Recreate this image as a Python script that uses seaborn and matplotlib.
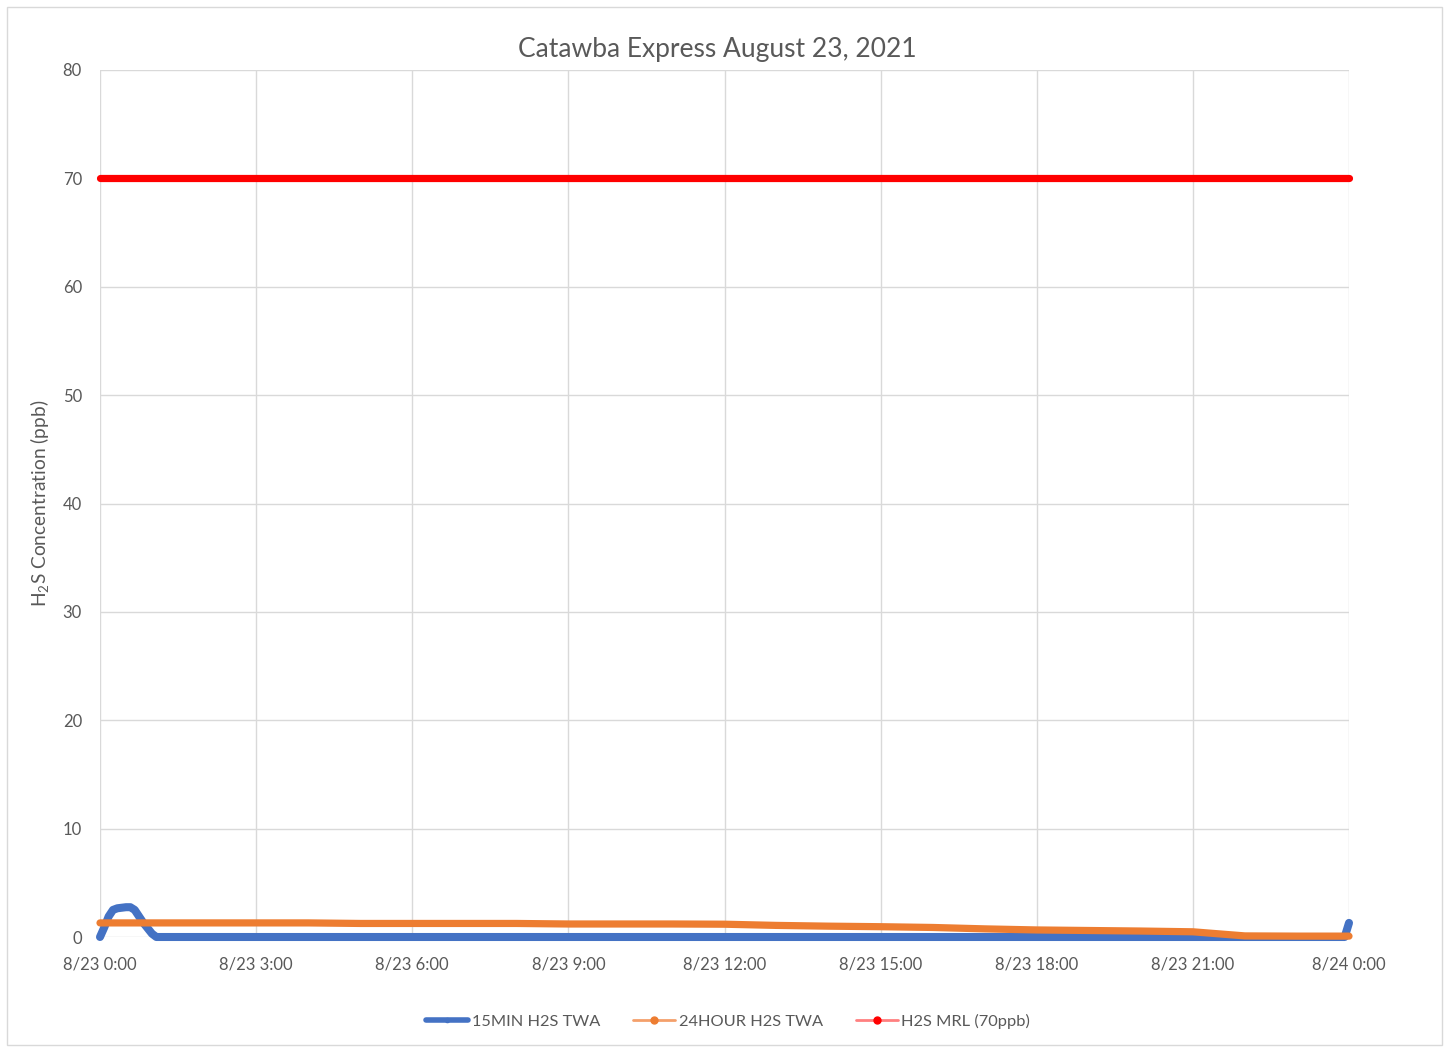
import matplotlib
matplotlib.use("Agg")
import matplotlib.pyplot as plt
import seaborn as sns
import pandas as pd
from matplotlib.lines import Line2D
from matplotlib.patches import Rectangle

# ---- data (hours after 8/23 0:00, concentration in ppb) ----
blue_hours = [0, 5/60, 10/60, 15/60, 20/60, 25/60, 30/60, 35/60, 40/60, 45/60, 50/60, 55/60, 60/60, 65/60,
              2, 3, 4, 5, 6, 7, 8, 9, 10, 11, 12, 13, 14, 15, 16, 17, 18, 19, 20, 21, 22, 23, 23 + 55/60, 24]
blue_values = [0.0, 0.9, 1.9, 2.5, 2.65, 2.7, 2.75, 2.75, 2.5, 1.9, 1.3, 0.8, 0.3, 0.0,
               0, 0, 0, 0, 0, 0, 0, 0, 0, 0, 0, 0, 0, 0, 0, 0, 0, 0, 0, 0, 0, 0, 0.0, 1.3]

orange_hours = [0, 1, 2, 3, 4, 5, 6, 7, 8, 9, 10, 11, 12, 13, 14, 15, 16, 17, 18, 19, 20, 21, 22, 23, 24]
orange_values = [1.3, 1.3, 1.3, 1.3, 1.3, 1.25, 1.25, 1.25, 1.25, 1.2, 1.2, 1.2, 1.18, 1.07, 1.0, 0.95,
                 0.88, 0.75, 0.65, 0.6, 0.55, 0.48, 0.1, 0.08, 0.08]

red_hours = [0, 3, 6, 9, 12, 15, 18, 21, 24]
red_values = [70, 70, 70, 70, 70, 70, 70, 70, 70]

x_tick_labels = ["8/23 0:00", "8/23 3:00", "8/23 6:00", "8/23 9:00", "8/23 12:00",
                 "8/23 15:00", "8/23 18:00", "8/23 21:00", "8/24 0:00"]
y_ticks = [0, 10, 20, 30, 40, 50, 60, 70, 80]

series_names = ["15MIN H2S TWA", "24HOUR H2S TWA", "H2S MRL (70ppb)"]
title = "Catawba Express August 23, 2021"

# ---- style ----
sns.set_style("white")
plt.rcParams['font.family'] = ['Lato', 'DejaVu Sans']
plt.rcParams['mathtext.fontset'] = 'custom'
plt.rcParams['mathtext.rm'] = 'Lato'

BLUE = "#4472C4"
ORANGE = "#ED7D31"
RED = "#FF0000"
TXT = "#595959"
GRID = "#D9D9D9"

fig = plt.figure(figsize=(14.49, 10.48), dpi=100)
ax = fig.add_axes([100/1449, 1 - 937/1048, 1249/1449, 867/1048])

df_b = pd.DataFrame({"h": blue_hours, "v": blue_values})
df_o = pd.DataFrame({"h": orange_hours, "v": orange_values})
df_r = pd.DataFrame({"h": red_hours, "v": red_values})

sns.lineplot(data=df_b, x="h", y="v", ax=ax, color=BLUE, linewidth=5.8,
             solid_capstyle="round", solid_joinstyle="round", zorder=3, clip_on=False)
sns.lineplot(data=df_o, x="h", y="v", ax=ax, color=ORANGE, linewidth=5.2,
             solid_capstyle="round", solid_joinstyle="round", zorder=4, clip_on=False)
sns.lineplot(data=df_r, x="h", y="v", ax=ax, color=RED, linewidth=5.2,
             solid_capstyle="round", zorder=5, clip_on=False)

ax.set_xlim(0, 24)
ax.set_ylim(0, 80)
ax.set_xticks([0, 3, 6, 9, 12, 15, 18, 21, 24])
ax.set_xticklabels(x_tick_labels)
ax.set_yticks(y_ticks)
ax.tick_params(axis='both', length=0, labelsize=12, labelcolor=TXT)
ax.tick_params(axis='x', pad=14)
ax.tick_params(axis='y', pad=13)
ax.grid(True, color=GRID, linewidth=1.0)
ax.set_axisbelow(True)
for s in ax.spines.values():
    s.set_visible(False)

ax.set_xlabel("")
ax.set_ylabel(r"H$_{\mathregular{2}}$S Concentration (ppb)", fontsize=13.8, color=TXT, labelpad=8)
fig.text(717/1449, 1 - 50/1048, title, ha="center", va="center", fontsize=19, color=TXT)

handles = [
    Line2D([], [], color=BLUE, linewidth=4, marker='o', markersize=3, markerfacecolor=BLUE),
    Line2D([], [], color="#F4A06B", linewidth=2, marker='o', markersize=5, markerfacecolor=ORANGE,
           markeredgecolor=ORANGE),
    Line2D([], [], color="#FF8080", linewidth=2, marker='o', markersize=5, markerfacecolor=RED,
           markeredgecolor=RED),
]
fig.legend(handles, series_names, loc="center", bbox_to_anchor=(728/1449, 1 - 1021/1048), ncol=3,
           frameon=False, fontsize=11.8, labelcolor=TXT, handlelength=2.6, columnspacing=2.0,
           handletextpad=0.2)

fig.patches.append(Rectangle((7/1449, 3/1048), 1435/1449, 1038/1048, transform=fig.transFigure,
                             fill=False, edgecolor=GRID, linewidth=1.0))

fig.savefig("out.png", dpi=100)
